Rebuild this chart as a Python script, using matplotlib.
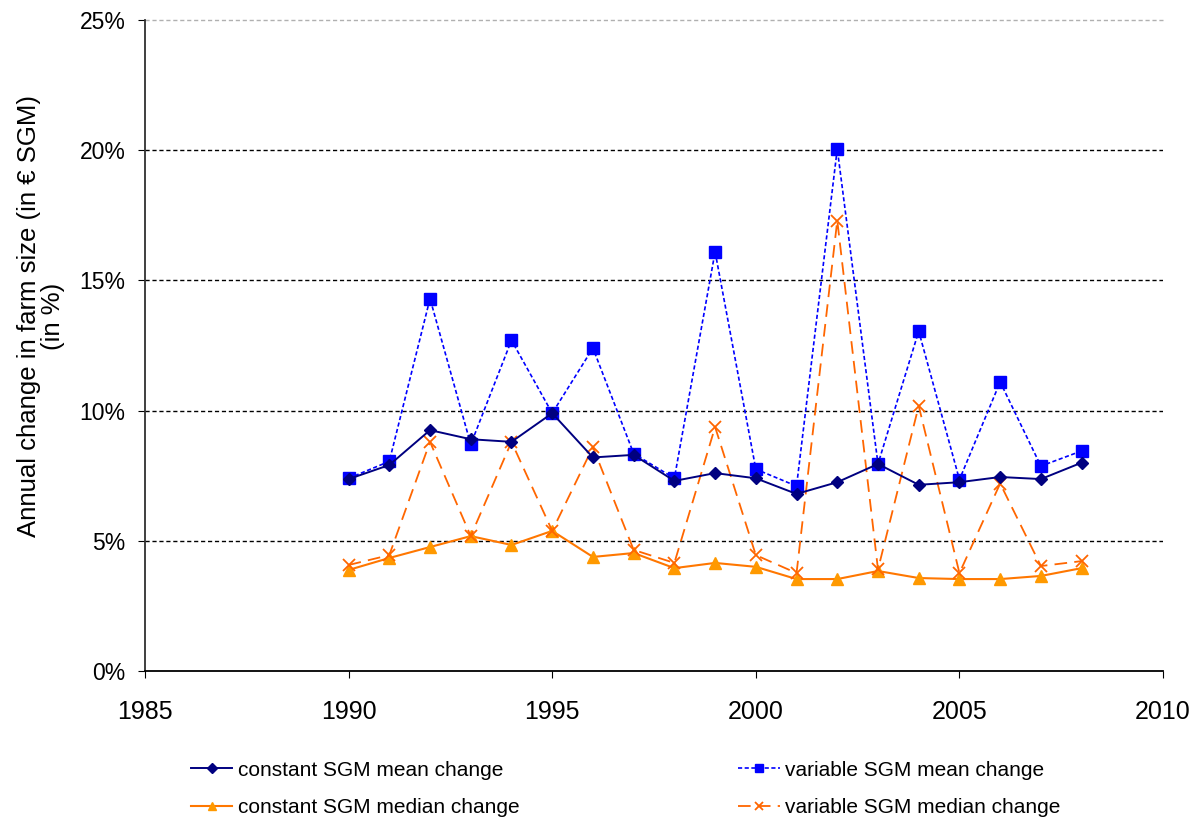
import matplotlib
matplotlib.use("Agg")
import matplotlib.pyplot as plt
from matplotlib.ticker import FuncFormatter

plt.rcParams['font.family'] = ['Liberation Sans', 'DejaVu Sans']

years = list(range(1990, 2009))
const_mean = [7.37, 7.91, 9.25, 8.9, 8.8, 9.9, 8.2, 8.3, 7.3, 7.6, 7.4, 6.8, 7.25, 7.95, 7.15, 7.25, 7.45, 7.37, 8.0]
var_mean = [7.4, 8.05, 14.3, 8.7, 12.7, 9.9, 12.4, 8.35, 7.4, 16.1, 7.75, 7.1, 20.05, 7.95, 13.05, 7.35, 11.1, 7.87, 8.45]
const_median = [3.88, 4.34, 4.76, 5.18, 4.84, 5.38, 4.38, 4.53, 3.95, 4.15, 4.0, 3.53, 3.53, 3.84, 3.57, 3.53, 3.53, 3.65, 3.95]
var_median = [4.07, 4.45, 8.8, 5.18, 8.8, 5.38, 8.6, 4.65, 4.15, 9.37, 4.45, 3.76, 17.3, 3.9, 10.18, 3.76, 7.2, 4.03, 4.22]
x_ticks = [1985, 1990, 1995, 2000, 2005, 2010]
y_ticks = [0, 5, 10, 15, 20, 25]

fig = plt.figure(figsize=(12.03, 8.23), dpi=100)
ax = fig.add_axes([0.1205, 0.1847, 0.8463, 0.791])

ax.plot(years, const_mean, color='#000080', lw=1.4, marker='D', ms=6.5, mfc='#000080', mec='#000080',
        label='constant SGM mean change', zorder=4)
ax.plot(years, var_mean, color='#0000FF', lw=1.2, ls=(0, (2.5, 1.5)), marker='s', ms=8, mfc='#0000FF', mec='#0000FF',
        label='variable SGM mean change', zorder=3)
ax.plot(years, const_median, color='#FF7700', lw=1.5, marker='^', ms=8, mfc='#FF9900', mec='#FF9900',
        label='constant SGM median change', zorder=3)
ax.plot(years, var_median, color='#FF6600', lw=1.3, ls=(0, (7, 4)), marker='x', ms=8, mew=1.3, mec='#FF6600',
        label='variable SGM median change', zorder=3)

ax.set_xlim(1985, 2010)
ax.set_ylim(0, 25)
ax.set_xticks(x_ticks)
ax.set_yticks(y_ticks)
ax.yaxis.set_major_formatter(FuncFormatter(lambda v, p: f"{int(v)}%"))
ax.tick_params(axis='x', labelsize=18, length=5, direction='out', color='black', pad=16)
ax.tick_params(axis='y', labelsize=16.5, length=5, direction='out', color='black', pad=9)
for y in [5, 10, 15, 20]:
    ax.axhline(y, color='black', lw=1.0, ls=(0, (3, 2)), zorder=1)
ax.axhline(25, color='#B0B0B0', lw=1.0, ls=(0, (3, 2)), zorder=1, clip_on=False)
ax.spines['top'].set_visible(False)
ax.spines['right'].set_visible(False)
ax.spines['left'].set_color('#303030')
ax.spines['bottom'].set_color('black')
ax.spines['left'].set_linewidth(1.3)
ax.spines['bottom'].set_linewidth(1.3)
ax.set_ylabel('Annual change in farm size (in € SGM)\n(in %)', fontsize=18.5, linespacing=1.0)
ax.yaxis.set_label_coords(-0.079, 0.545)

handles, labels = ax.get_legend_handles_labels()
order = [0, 2, 1, 3]
fig.legend([handles[i] for i in order], [labels[i] for i in order], ncol=2, loc='lower left',
           bbox_to_anchor=(0.143, -0.016), frameon=False, fontsize=15, handlelength=2.0,
           handletextpad=0.25, columnspacing=10.5, labelspacing=0.9, markerscale=0.8)

fig.savefig('out.png', dpi=100)
